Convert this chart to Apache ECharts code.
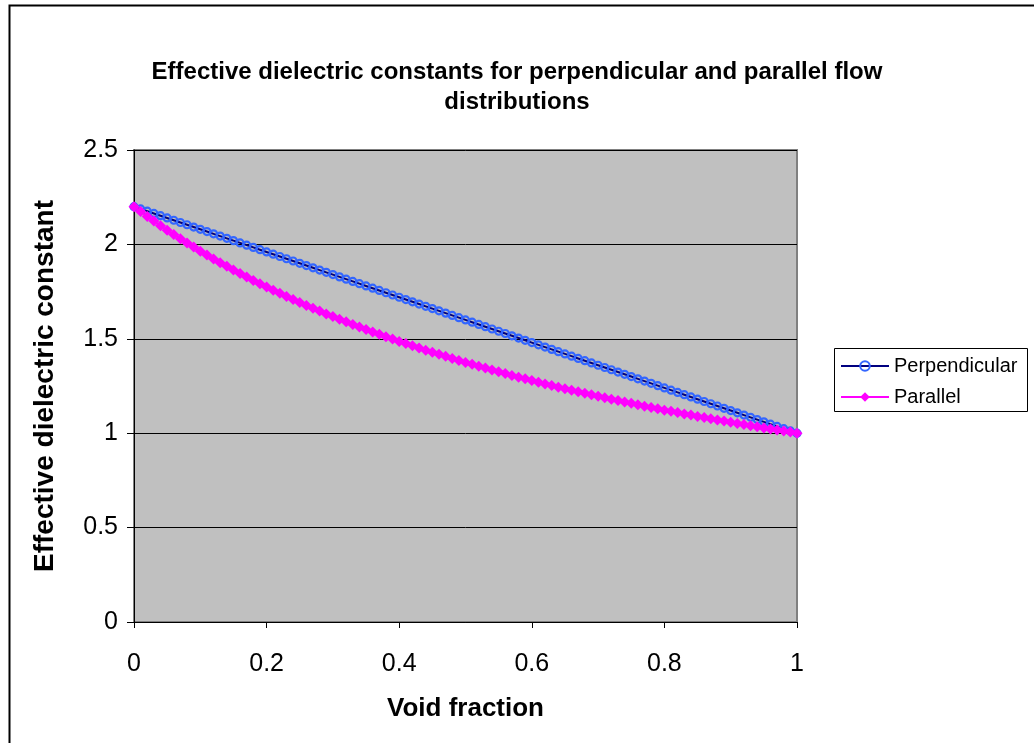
<!DOCTYPE html>
<html>
<head>
<meta charset="utf-8">
<script src="https://cdn.jsdelivr.net/npm/echarts@6/dist/echarts.min.js"></script>
<style>html,body{margin:0;padding:0;background:#fff;}#c{width:1034px;height:743px;}</style>
</head>
<body>
<div id="c"></div>
<script>
const voidFraction = [0,0.01,0.02,0.03,0.04,0.05,0.06,0.07,0.08,0.09,0.1,0.11,0.12,0.13,0.14,0.15,0.16,0.17,0.18,0.19,0.2,0.21,0.22,0.23,0.24,0.25,0.26,0.27,0.28,0.29,0.3,0.31,0.32,0.33,0.34,0.35,0.36,0.37,0.38,0.39,0.4,0.41,0.42,0.43,0.44,0.45,0.46,0.47,0.48,0.49,0.5,0.51,0.52,0.53,0.54,0.55,0.56,0.57,0.58,0.59,0.6,0.61,0.62,0.63,0.64,0.65,0.66,0.67,0.68,0.69,0.7,0.71,0.72,0.73,0.74,0.75,0.76,0.77,0.78,0.79,0.8,0.81,0.82,0.83,0.84,0.85,0.86,0.87,0.88,0.89,0.9,0.91,0.92,0.93,0.94,0.95,0.96,0.97,0.98,0.99,1];
const perpendicular = [2.2,2.188,2.176,2.164,2.152,2.14,2.128,2.116,2.104,2.092,2.08,2.068,2.056,2.044,2.032,2.02,2.008,1.996,1.984,1.972,1.96,1.948,1.936,1.924,1.912,1.9,1.888,1.876,1.864,1.852,1.84,1.828,1.816,1.804,1.792,1.78,1.768,1.756,1.744,1.732,1.72,1.708,1.696,1.684,1.672,1.66,1.648,1.636,1.624,1.612,1.6,1.588,1.576,1.564,1.552,1.54,1.528,1.516,1.504,1.492,1.48,1.468,1.456,1.444,1.432,1.42,1.408,1.396,1.384,1.372,1.36,1.348,1.336,1.324,1.312,1.3,1.288,1.276,1.264,1.252,1.24,1.228,1.216,1.204,1.192,1.18,1.168,1.156,1.144,1.132,1.12,1.108,1.096,1.084,1.072,1.06,1.048,1.036,1.024,1.012,1.0];
const parallel = [2.2,2.174,2.148,2.124,2.099,2.075,2.052,2.030,2.007,1.986,1.964,1.944,1.923,1.903,1.884,1.864,1.846,1.827,1.809,1.792,1.774,1.757,1.741,1.724,1.708,1.692,1.677,1.662,1.647,1.632,1.618,1.603,1.590,1.576,1.563,1.549,1.536,1.524,1.511,1.499,1.486,1.475,1.463,1.451,1.440,1.429,1.418,1.407,1.396,1.385,1.375,1.365,1.355,1.345,1.335,1.325,1.316,1.306,1.297,1.288,1.279,1.270,1.261,1.253,1.244,1.236,1.228,1.220,1.211,1.204,1.196,1.188,1.180,1.173,1.165,1.158,1.151,1.143,1.136,1.129,1.122,1.116,1.109,1.102,1.096,1.089,1.083,1.076,1.070,1.064,1.058,1.052,1.046,1.040,1.034,1.028,1.022,1.017,1.011,1.006,1.0];
const xTicks = {min: 0, max: 1, interval: 0.2};
const yTicks = {min: 0, max: 2.5, interval: 0.5};
const titleText = 'Effective dielectric constants for perpendicular and parallel flow\ndistributions';

const chart = echarts.init(document.getElementById('c'), null, {renderer: 'canvas'});
const font = 'Arial, "Liberation Sans", sans-serif';
chart.setOption({
  animation: false,
  backgroundColor: '#ffffff',
  graphic: [{
    type: 'rect', left: 7, top: 3, silent: true,
    shape: {x: 0, y: 0, width: 1100, height: 800},
    style: {fill: 'none', stroke: '#000', lineWidth: 2}
  }, {
    type: 'rect', silent: true, z: 0,
    shape: {x: 834.5, y: 348.5, width: 193, height: 63},
    style: {fill: '#fff', stroke: '#000', lineWidth: 1}
  }],
  title: {
    text: titleText, left: 'center', top: 52,
    textStyle: {fontFamily: font, fontSize: 24, fontWeight: 'bold', color: '#000', lineHeight: 30}
  },
  legend: {
    orient: 'vertical', left: 840, top: 356, z: 10,
    padding: 0, itemGap: 11, itemWidth: 48, itemHeight: 12,
    textStyle: {fontFamily: font, fontSize: 20, color: '#000', lineHeight: 20},
    data: ['Perpendicular', 'Parallel']
  },
  grid: {
    left: 134, top: 150, width: 663, height: 472,
    show: true, backgroundColor: '#C0C0C0', borderColor: '#808080', borderWidth: 2
  },
  xAxis: {
    type: 'value', min: xTicks.min, max: xTicks.max, interval: xTicks.interval,
    name: 'Void fraction', nameLocation: 'middle', nameGap: 74,
    nameTextStyle: {fontFamily: font, fontSize: 26, fontWeight: 'bold', color: '#000'},
    axisLine: {show: true, onZero: false, lineStyle: {color: '#000', width: 1}},
    axisTick: {show: true, length: 6, inside: false, lineStyle: {color: '#000'}},
    axisLabel: {fontFamily: font, fontSize: 25, color: '#000', margin: 30},
    splitLine: {show: false}
  },
  yAxis: {
    type: 'value', min: yTicks.min, max: yTicks.max, interval: yTicks.interval,
    name: 'Effective dielectric constant', nameLocation: 'middle', nameGap: 75,
    nameTextStyle: {fontFamily: font, fontSize: 28, fontWeight: 'bold', color: '#000'},
    axisLine: {show: true, lineStyle: {color: '#000', width: 1}},
    axisTick: {show: true, length: 7, inside: false, lineStyle: {color: '#000'}},
    axisLabel: {fontFamily: font, fontSize: 25, color: '#000', margin: 16},
    splitLine: {show: true, lineStyle: {color: '#000', width: 1}}
  },
  series: [{
    name: 'Perpendicular', type: 'line',
    data: voidFraction.map((v, i) => [v, perpendicular[i]]),
    symbol: 'circle', symbolSize: 7, showAllSymbol: true,
    lineStyle: {color: '#000080', width: 2},
    itemStyle: {color: 'rgba(0,0,0,0)', borderColor: '#3366FF', borderWidth: 2.2},
    z: 2
  }, {
    name: 'Parallel', type: 'line',
    data: voidFraction.map((v, i) => [v, parallel[i]]),
    symbol: 'diamond', symbolSize: 11, showAllSymbol: true,
    lineStyle: {color: '#FF00FF', width: 2},
    itemStyle: {color: '#FF00FF', borderColor: '#FF00FF', borderWidth: 0},
    z: 3
  }]
});
</script>
</body>
</html>
